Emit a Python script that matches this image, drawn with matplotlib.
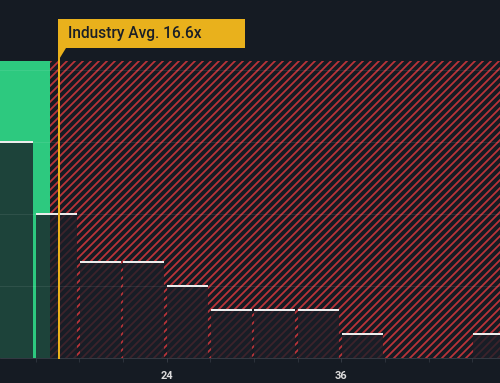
import numpy as np
import matplotlib
matplotlib.use('Agg')
import matplotlib.pyplot as plt
from matplotlib.patches import Polygon
from matplotlib.transforms import Affine2D, ScaledTranslation, blended_transform_factory

# histogram of PE ratios (bins of 3x)
bin_edges = [12, 15, 18, 21, 24, 27, 30, 33, 36, 39, 42, 45]
counts = [9, 6, 4, 4, 3, 2, 2, 2, 1, 0, 0, 1]
company_pe = 16.0
industry_avg = 16.6
avg_label = 'Industry Avg. 16.6x'
xtick_labels = [24, 36]
minor_ticks = [15, 18, 21, 27, 30, 33, 39, 42, 45]

bg = '#151b23'
green = '#2dc97f'
red = '#b9343a'
yellow = '#e9b11c'
bar_col = '#191e27'

plt.rcParams['hatch.linewidth'] = 1.8
plt.rcParams['font.family'] = ['Roboto', 'DejaVu Sans']

dpi = 72
fig = plt.figure(figsize=(500 / dpi, 383 / dpi), dpi=dpi, facecolor=bg)
ax = fig.add_axes([0, 25 / 383, 1, 297 / 383])
ax.set_facecolor(bg)
ax.set_xlim(12.55, 46.9)
ax.set_ylim(0, 12.375)

# value regions
ax.axvspan(ax.get_xlim()[0], company_pe, color=green, lw=0, zorder=0)
ax.axvspan(company_pe, ax.get_xlim()[1], facecolor=bg, edgecolor=red, hatch='///', lw=0, zorder=0)

# bars
left = np.array(bin_edges[:len(counts)]) + 0.03
width = 2.8
ax.bar(left, counts, width=width, align='edge', color=bar_col, alpha=0.78, lw=0, zorder=2)
for x0, c in zip(left, counts):
    if c > 0:
        ax.hlines(c, x0, x0 + width, color='#ececec', lw=2, zorder=4)

for g in (3, 6, 9, 12):
    ax.axhline(g, color='white', alpha=0.08, lw=1, zorder=3)

# industry average marker
base = blended_transform_factory(ax.transData, ax.transAxes)
ax.plot([industry_avg, industry_avg], [0, 1.045], transform=base, color=yellow,
        lw=2, clip_on=False, zorder=5)
box_tr = Affine2D() + ScaledTranslation(industry_avg, 1.0, base)
box = Polygon([(-1, 0), (-1, 42), (186, 42), (186, 13), (7, 13)], closed=True,
              transform=box_tr, facecolor=yellow, edgecolor='none', clip_on=False, zorder=6)
ax.add_patch(box)
ax.text(industry_avg, 1.0, avg_label, transform=base + ScaledTranslation(9 / dpi, 27.5 / dpi, fig.dpi_scale_trans),
        ha='left', va='center', fontsize=15.5, fontweight='medium', color='#1a1f27', zorder=7, clip_on=False)

for s in ('top', 'left', 'right'):
    ax.spines[s].set_visible(False)
ax.spines['bottom'].set_color('#3b414a')
ax.set_yticks([])
ax.set_xticks(xtick_labels)
ax.set_xticklabels([str(v) for v in xtick_labels], fontsize=11, fontweight='bold', color='#dcdcdc')
ax.set_xticks(minor_ticks, minor=True)
ax.tick_params(axis='x', which='both', length=4, color='#3b414a', pad=9)

fig.savefig('out.png', dpi=dpi, facecolor=bg)
